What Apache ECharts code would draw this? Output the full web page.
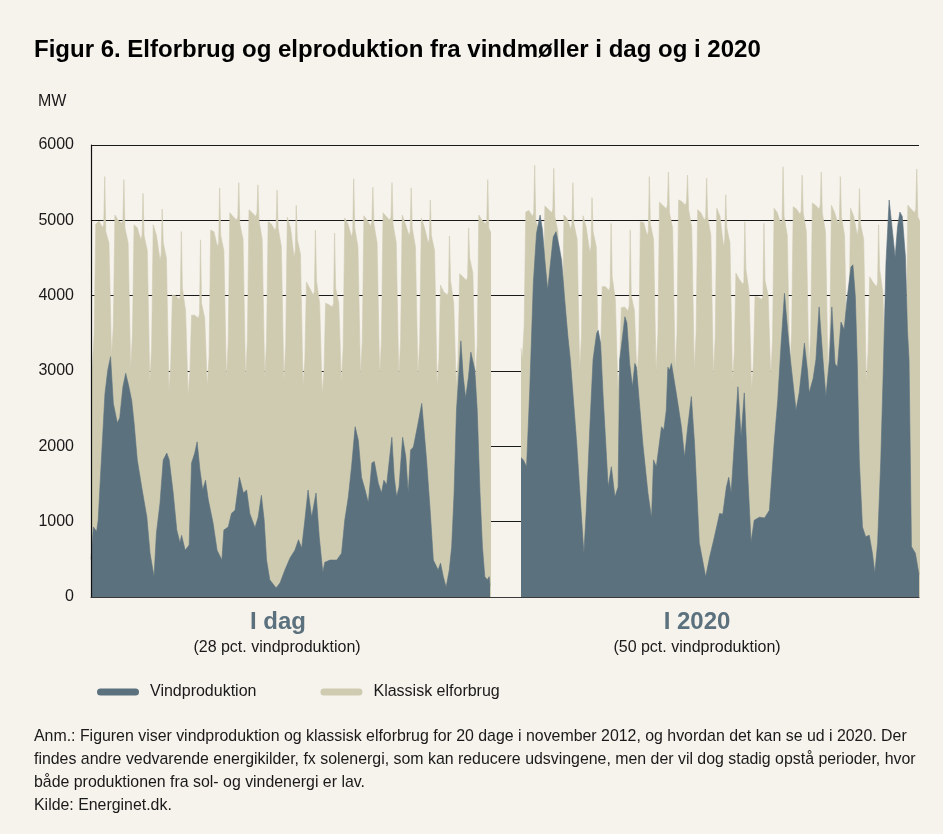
<!DOCTYPE html>
<html>
<head>
<meta charset="utf-8">
<script src="https://cdn.jsdelivr.net/npm/echarts@6/dist/echarts.min.js"></script>
<style>
  html, body { margin: 0; padding: 0; background: #f6f2ec; }
  #chart { width: 943px; height: 834px; }
</style>
</head>
<body>
<div id="chart"></div>
<script>
// timer inden for døgnet hvor forbruget er aflæst (0 = panelets start)
const consHours = [1.7, 4, 6, 10, 14.5, 16, 17.2, 18.5, 22.5]

// klassisk elforbrug i dag, én række pr. døgn (MW)
const consTodayStart = 3150
const consToday = [
  [3060, 3500, 4950, 4990, 4900, 4950, 5580, 4850, 4700],
  [3190, 3600, 5070, 5000, 4960, 5000, 5540, 4900, 4700],
  [3010, 3500, 4940, 4900, 4740, 4800, 5360, 4800, 4600],
  [2840, 3300, 4940, 4800, 4470, 4550, 5150, 4700, 4500],
  [2720, 3100, 4010, 4000, 3950, 4000, 4850, 4100, 3800],
  [2670, 3000, 3740, 3740, 3700, 3760, 4740, 3900, 3700],
  [2780, 3200, 4870, 4850, 4650, 4700, 5430, 4800, 4600],
  [2890, 3400, 5100, 5050, 5000, 5050, 5500, 4950, 4750],
  [2880, 3400, 5140, 5100, 5050, 5100, 5470, 5000, 4750],
  [2900, 3400, 4980, 4950, 4870, 4900, 5400, 4900, 4650],
  [2860, 3350, 5040, 4900, 4510, 4600, 5200, 4750, 4550],
  [2790, 3150, 4180, 4100, 4010, 4050, 4870, 4200, 3900],
  [2680, 3000, 3900, 3880, 3850, 3900, 4830, 4100, 3900],
  [2840, 3300, 5030, 4950, 4780, 4850, 5550, 4900, 4650],
  [2930, 3400, 5060, 5000, 4920, 4980, 5440, 4950, 4700],
  [2920, 3400, 5100, 5050, 5000, 5050, 5500, 4950, 4700],
  [2900, 3400, 5070, 4950, 4800, 4850, 5430, 4900, 4650],
  [2930, 3400, 5030, 4900, 4700, 4750, 5270, 4800, 4600],
  [2790, 3150, 4140, 4050, 4010, 4050, 4790, 4200, 3900],
  [2790, 3150, 4290, 4250, 4200, 4250, 4900, 4500, 4300],
  [2850, 3350, 5070, 5000, 4950, 5000, 5540, 4900, 4800],
]

// klassisk elforbrug i 2020
const cons2020Start = 3300
const cons2020 = [
  [3150, 3600, 5110, 5130, 5050, 5100, 5730, 5000, 4850],
  [3300, 3700, 5190, 5150, 5100, 5150, 5690, 5050, 4850],
  [3100, 3600, 5070, 5020, 4880, 4950, 5500, 4950, 4750],
  [3010, 3450, 5060, 4900, 4570, 4650, 5300, 4850, 4650],
  [2800, 3200, 4120, 4120, 4070, 4120, 4960, 4250, 3950],
  [2750, 3100, 3840, 3850, 3800, 3870, 4870, 4000, 3800],
  [2920, 3350, 4980, 4970, 4800, 4850, 5580, 4950, 4750],
  [2970, 3500, 5240, 5200, 5150, 5200, 5640, 5100, 4900],
  [2970, 3500, 5270, 5250, 5200, 5250, 5600, 5150, 4900],
  [3010, 3500, 5140, 5100, 5000, 5050, 5560, 5050, 4800],
  [2920, 3450, 5160, 5050, 4650, 4750, 5340, 4900, 4700],
  [2850, 3250, 4300, 4220, 4150, 4180, 4980, 4350, 4050],
  [2750, 3100, 3990, 3980, 3950, 4000, 4960, 4200, 4000],
  [2920, 3400, 5160, 5100, 4950, 5000, 5710, 5050, 4800],
  [3000, 3500, 5180, 5150, 5080, 5120, 5600, 5100, 4850],
  [3000, 3500, 5230, 5200, 5150, 5200, 5640, 5100, 4850],
  [2970, 3500, 5200, 5100, 4950, 5000, 5580, 5050, 4800],
  [3000, 3500, 5160, 5050, 4800, 4900, 5420, 4950, 4750],
  [2850, 3250, 4250, 4180, 4120, 4170, 4940, 4350, 4050],
  [3010, 3300, 4420, 4380, 4300, 4350, 4800, 4500, 4400],
  [2950, 3450, 5200, 5150, 5100, 5150, 5680, 5050, 4950],
]

// vindproduktion i dag: [time, MW]
const windToday = [
  [0, 500], [3, 930], [7, 870], [9, 1020], [13, 1820], [17.5, 2700], [21, 3010], [24.5, 3190],
  [28, 2570], [33, 2310], [36, 2380], [40, 2790], [43.5, 2970], [47.5, 2790], [51, 2610], [54, 2310],
  [58, 1820], [63.5, 1460], [70, 1060], [74, 580], [79, 270], [82, 850], [86.5, 1250], [90.5, 1820],
  [95, 1910], [98, 1820], [103, 1380], [107.5, 890], [111.5, 720], [113.5, 820], [118, 620], [123, 690],
  [126, 1780], [130, 1910], [133, 2060], [136.5, 1690], [140, 1420], [143.5, 1550], [147, 1290],
  [153, 980], [158, 620], [164, 490], [166.5, 890], [172, 930], [176, 1110], [180.5, 1150], [186, 1590],
  [191, 1380], [195, 1420], [199, 1110], [205.5, 920], [209.5, 1060], [213.5, 1350], [217, 1020],
  [220, 490], [224, 230], [232, 120], [237, 190], [243, 360], [249.5, 520], [255.5, 620], [260, 760],
  [264, 650], [268, 1020], [272, 1420], [276.5, 1060], [282, 1380], [286, 800], [290.5, 330], [293, 460],
  [299.5, 490], [308, 490], [314, 580], [318, 1020], [322.5, 1330], [326.5, 1730], [331, 2260],
  [335, 2080], [339, 1590], [343.5, 1420], [347.5, 1250], [352, 1780], [355, 1800], [360, 1510],
  [364, 1380], [367, 1550], [370.5, 1490], [377, 2120], [380, 1590], [383, 1330], [386, 1460],
  [390.5, 2120], [394.5, 1860], [397.5, 1380], [400.5, 1950], [404, 1990], [409, 2260], [414.5, 2570],
  [417, 2570], [420.5, 1820], [425, 1150], [429, 490], [435, 360], [438, 450], [441.5, 270], [445, 130],
  [449, 360], [452, 670], [455, 1380], [458, 2480], [461.5, 3050], [463.5, 3400], [466.5, 2920],
  [469.5, 2640], [473, 2920], [476, 3250], [481, 3010], [484, 2480], [487.5, 1380], [490.5, 670],
  [493.5, 270], [496.5, 230], [499, 270], [500, 150],
]

// vindproduktion i 2020: [time, MW]
const wind2020 = [
  [0, 1850], [3, 1820], [7, 1730], [11, 2750], [15.5, 4170], [19.5, 4830], [24, 5070], [27, 4870],
  [30, 4470], [33.5, 4080], [36.5, 4380], [40.5, 4780], [44, 4850], [48, 4650], [51, 4470], [55, 3940],
  [59, 3450], [62, 3150], [70, 2040], [74, 1380], [79, 580], [82, 1150], [86.5, 2260], [90.5, 3150],
  [95, 3500], [97, 3540], [100, 3370], [103, 2700], [109.5, 1460], [113.5, 1730], [118, 1330],
  [122, 1460], [124, 3150], [126, 3320], [130.5, 3720], [133, 3640], [136.5, 3100], [140, 2790],
  [143, 3100], [145, 3050], [153, 2040], [159.5, 1380], [164, 1050], [166.5, 1820], [170, 1730],
  [176.5, 2260], [179.5, 2220], [182.5, 2480], [184.5, 3050], [186.5, 3010], [189, 3100], [195, 2710],
  [201.5, 2260], [205.5, 1860], [209.5, 2260], [214, 2660], [218, 2040], [224, 720], [232, 270],
  [237, 530], [243, 800], [249.5, 1110], [253.5, 1100], [258, 1460], [261, 1590], [264, 1380],
  [268, 2040], [272.5, 2790], [276.5, 2120], [280.5, 2710], [285, 1590], [289, 730], [293, 1020],
  [299.5, 1060], [306, 1050], [312, 1150], [318, 2040], [322.5, 2610], [326.5, 3320], [331, 4030],
  [335, 3540], [339, 3100], [345.5, 2480], [349.5, 2710], [354, 3150], [356, 3370], [360, 3000],
  [362, 2710], [367, 2900], [370.5, 3150], [374.5, 3850], [379, 3200], [383, 2660], [387.5, 3150],
  [390.5, 3850], [394.5, 3100], [397.5, 3050], [402, 3650], [406, 3550], [410, 3990], [414.5, 4380],
  [417, 4410], [420, 3990], [422.5, 3100], [425, 1820], [429, 930], [433, 800], [437.5, 820],
  [441.5, 580], [444.5, 320], [448, 720], [452, 1820], [455.5, 3150], [458.5, 4430], [462.5, 5270],
  [466.5, 4870], [470, 4510], [473, 4910], [476, 5110], [479, 5050], [483, 4510], [485.5, 3540],
  [487.5, 3150], [490.5, 670], [495.5, 580], [499, 360], [500, 300],
]

const yTicks = [0, 1000, 2000, 3000, 4000, 5000, 6000]
const panelLabels = ['I dag', 'I 2020']
const panelNotes = ['(28 pct. vindproduktion)', '(50 pct. vindproduktion)']
const noteLines = [
  'Anm.: Figuren viser vindproduktion og klassisk elforbrug for 20 dage i november 2012, og hvordan det kan se ud i 2020. Der',
  'findes andre vedvarende energikilder, fx solenergi, som kan reducere udsvingene, men der vil dog stadig opstå perioder, hvor',
  'både produktionen fra sol- og vindenergi er lav.',
  'Kilde: Energinet.dk.',
]

const FONT = '"Liberation Sans", Arial, sans-serif'
const WIND = '#5b717e'
const CONS = '#cfcbb1'

// døgnrækker -> [time, MW]
function toPoints(start, rows) {
  const pts = [[0, start]]
  rows.forEach((row, d) => {
    row.forEach((v, i) => pts.push([24 * d + consHours[i], v]))
  })
  return pts
}

// vind ligger foran forbruget (z højere, ellers tegnes forbrugslinjen ovenpå)
function areaSeries(name, color, data, idx, z) {
  return {
    name,
    type: 'line',
    xAxisIndex: idx,
    yAxisIndex: idx,
    z,
    data,
    showSymbol: false,
    symbol: 'none',
    lineStyle: { width: 0.6, color },
    areaStyle: { color, opacity: 1 },
    itemStyle: { color },
    silent: true,
    animation: false,
  }
}

const chart = echarts.init(document.getElementById('chart'), null, { renderer: 'canvas' })

const panelGrid = (left, width) => ({ left, width, top: 145, bottom: 237 })
const hiddenX = (gridIndex) => ({
  type: 'value', gridIndex, min: 0, max: 500, show: false,
})

const option = {
  backgroundColor: '#f6f2ec',
  textStyle: { fontFamily: FONT },
  grid: [
    { left: 91, right: 24, top: 145, bottom: 237 },
    panelGrid(91, 399),
    panelGrid(521, 398),
  ],
  xAxis: [
    {
      type: 'value', gridIndex: 0, min: 0, max: 1, z: 10,
      axisLine: { show: true, lineStyle: { color: '#3a3a3a', width: 1.2 } },
      axisTick: { show: false }, axisLabel: { show: false }, splitLine: { show: false },
    },
    hiddenX(1),
    hiddenX(2),
  ],
  yAxis: [
    {
      type: 'value', gridIndex: 0, min: 0, max: 6000, interval: 1000,
      axisLine: { show: false }, axisTick: { show: false },
      axisLabel: {
        fontSize: 16, color: '#1a1a1a', margin: 17, fontFamily: FONT,
        formatter: (v) => (yTicks.includes(v) ? String(v) : ''),
      },
      splitLine: { show: true, lineStyle: { color: '#1a1a1a', width: 1 } },
    },
    {
      type: 'value', gridIndex: 1, min: 0, max: 6000, z: 10,
      axisLine: { show: true, lineStyle: { color: '#111', width: 1.2 } },
      axisTick: { show: false }, axisLabel: { show: false }, splitLine: { show: false },
    },
    {
      type: 'value', gridIndex: 2, min: 0, max: 6000, show: false,
    },
  ],
  legend: {
    left: 92,
    top: 679,
    itemWidth: 42,
    itemHeight: 7,
    itemGap: 64,
    icon: 'path://M3.5,0 H38.5 A3.5,3.5 0 0 1 38.5,7 H3.5 A3.5,3.5 0 0 1 3.5,0 Z',
    textStyle: { fontSize: 16, color: '#1a1a1a', fontFamily: FONT, padding: [0, 0, 0, 6] },
    data: ['Vindproduktion', 'Klassisk elforbrug'],
  },
  graphic: [
    {
      type: 'text', left: 34, top: 38,
      style: { text: 'Figur 6. Elforbrug og elproduktion fra vindmøller i dag og i 2020', font: `bold 24px ${FONT}`, fill: '#000' },
    },
    {
      type: 'text', left: 38, top: 94,
      style: { text: 'MW', font: `16px ${FONT}`, fill: '#1a1a1a' },
    },
    ...panelLabels.map((t, i) => ({
      type: 'text', x: [278, 697][i], y: 622,
      style: { text: t, font: `bold 24px ${FONT}`, fill: WIND, textAlign: 'center', textVerticalAlign: 'middle' },
    })),
    ...panelNotes.map((t, i) => ({
      type: 'text', x: [277, 697][i], y: 648,
      style: { text: t, font: `16px ${FONT}`, fill: '#1a1a1a', textAlign: 'center', textVerticalAlign: 'middle' },
    })),
    ...noteLines.map((t, i) => ({
      type: 'text', x: 34, y: 737 + 23 * i,
      style: { text: t, font: `15.9px ${FONT}`, fill: '#1a1a1a', textVerticalAlign: 'middle' },
    })),
  ],
  series: [
    areaSeries('Klassisk elforbrug', CONS, toPoints(consTodayStart, consToday), 1, 2),
    areaSeries('Vindproduktion', WIND, windToday, 1, 3),
    areaSeries('Klassisk elforbrug', CONS, toPoints(cons2020Start, cons2020), 2, 2),
    areaSeries('Vindproduktion', WIND, wind2020, 2, 3),
  ],
}

chart.setOption(option)
</script>
</body>
</html>
